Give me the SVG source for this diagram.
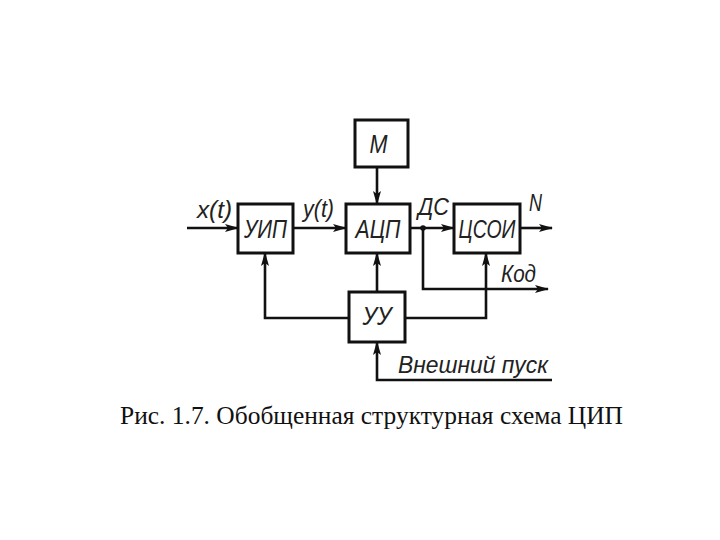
<svg xmlns="http://www.w3.org/2000/svg" width="720" height="540" viewBox="0 0 720 540">
<style>
.box{fill:#fff;stroke:#111;stroke-width:3}
.ln{fill:none;stroke:#111;stroke-width:2.6}
.bt{font-family:"Liberation Sans",Arial,sans-serif;font-style:italic;font-size:26px;fill:#222}
.lb{font-family:"Liberation Sans",Arial,sans-serif;font-style:italic;font-size:23px;fill:#222}
.cap{font-family:"Liberation Serif","Times New Roman",serif;font-size:25px;fill:#111}
</style>
<defs>
<marker id="ah" markerUnits="userSpaceOnUse" markerWidth="14" markerHeight="10" refX="13" refY="4" orient="auto">
<path d="M0,0 L14,4 L0,8 L3,4 z" fill="#111"/>
</marker>
</defs>
<rect width="720" height="540" fill="#fff"/>
<g id="connectors">
<path class="ln" d="M187,228 H238" marker-end="url(#ah)"/>
<path class="ln" d="M293,228 H346" marker-end="url(#ah)"/>
<path class="ln" d="M410,228 H454" marker-end="url(#ah)"/>
<path class="ln" d="M520,228 H552" marker-end="url(#ah)"/>
<path class="ln" d="M377,167 V204" marker-end="url(#ah)"/>
<path class="ln" d="M377,292 V253" marker-end="url(#ah)"/>
<path class="ln" d="M349,318 H265 V253" marker-end="url(#ah)"/>
<path class="ln" d="M405,318 H486 V253" marker-end="url(#ah)"/>
<path class="ln" d="M423,228 V289 H548" marker-end="url(#ah)"/>
<path class="ln" d="M552,380 H377 V342" marker-end="url(#ah)"/>
<circle cx="423" cy="228" r="2.8" fill="#111"/>
</g>
<g id="M"><rect class="box" x="355" y="120" width="53" height="47"/><text class="bt" x="378.5" y="153" text-anchor="middle" textLength="18" lengthAdjust="spacingAndGlyphs">M</text></g>
<g id="UIP"><rect class="box" x="238" y="204" width="55" height="49"/><text class="bt" x="265.5" y="238" text-anchor="middle" textLength="43" lengthAdjust="spacingAndGlyphs">УИП</text></g>
<g id="ACP"><rect class="box" x="346" y="204" width="64" height="49"/><text class="bt" x="378" y="238" text-anchor="middle" textLength="45" lengthAdjust="spacingAndGlyphs">АЦП</text></g>
<g id="CSOI"><rect class="box" x="454" y="204" width="66" height="49"/><text class="bt" x="487" y="238" text-anchor="middle" textLength="57" lengthAdjust="spacingAndGlyphs">ЦСОИ</text></g>
<g id="UU"><rect class="box" x="349" y="292" width="56" height="50"/><text class="bt" x="377" y="325" text-anchor="middle" textLength="29" lengthAdjust="spacingAndGlyphs">УУ</text></g>
<g id="labels">
<text class="lb" x="197" y="218" textLength="35" lengthAdjust="spacingAndGlyphs">x(t)</text>
<text class="lb" x="303" y="217" textLength="31" lengthAdjust="spacingAndGlyphs">y(t)</text>
<text class="lb" x="418" y="215" textLength="31" lengthAdjust="spacingAndGlyphs">ДС</text>
<text class="lb" x="529" y="211" textLength="13" lengthAdjust="spacingAndGlyphs">N</text>
<text class="lb" x="501" y="282" textLength="35" lengthAdjust="spacingAndGlyphs">Код</text>
<text class="lb" x="398" y="373" textLength="150" lengthAdjust="spacingAndGlyphs">Внешний пуск</text>
</g>
<text class="cap" x="120" y="424" textLength="503" lengthAdjust="spacingAndGlyphs">Рис. 1.7. Обобщенная структурная схема ЦИП</text>
</svg>
